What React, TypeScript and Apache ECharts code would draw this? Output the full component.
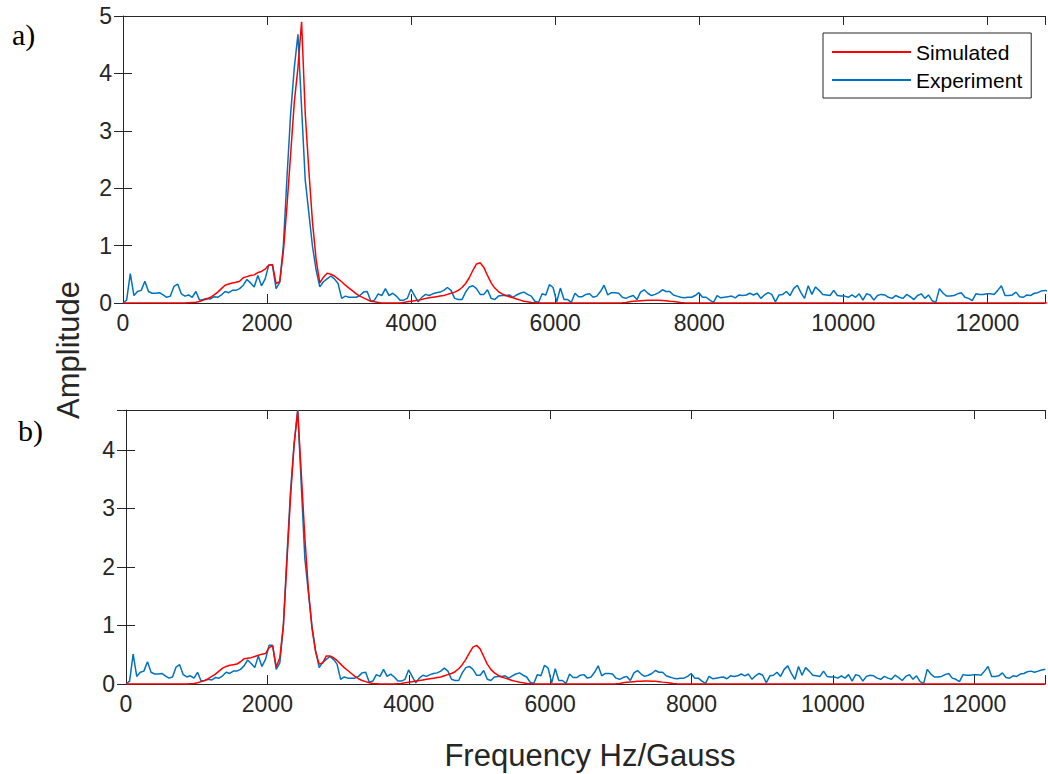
import React, { useEffect, useRef } from "react";
import * as echarts from "echarts";

// Frequency spacing of the samples (Hz/Gauss)
const FREQ_STEP = 50.6;

// x tick labels and y tick labels
const X_TICKS = [0, 2000, 4000, 6000, 8000, 10000, 12000];
const Y_TICKS_A = [0, 1, 2, 3, 4, 5];
const Y_TICKS_B = [0, 1, 2, 3, 4];

const SERIES_NAMES = ["Simulated", "Experiment"];

// Experimental spectrum (same in both panels)
const EXPERIMENT = [
  0, 0.05, 0.51, 0.13, 0.2, 0.22, 0.38, 0.2, 0.17, 0.17,
  0.18, 0.14, 0.1, 0.12, 0.29, 0.33, 0.16, 0.12, 0.14, 0.1,
  0.2, 0.05, 0.06, 0.08, 0.07, 0.11, 0.1, 0.14, 0.2, 0.18,
  0.22, 0.22, 0.25, 0.31, 0.41, 0.35, 0.28, 0.48, 0.3, 0.42,
  0.66, 0.66, 0.25, 0.36, 1.0, 2.2, 3.3, 4.1, 4.68, 3.4,
  2.14, 1.56, 0.98, 0.57, 0.28, 0.37, 0.42, 0.47, 0.42, 0.34,
  0.08, 0.12, 0.1, 0.1, 0.1, 0.13, 0.19, 0.2, 0.03, 0.05,
  0.16, 0.13, 0.25, 0.13, 0.17, 0.12, 0.05, 0.05, 0.08, 0.24,
  0.13, 0.02, 0.1, 0.15, 0.13, 0.16, 0.18, 0.19, 0.22, 0.27,
  0.22, 0.08, 0.06, 0.06, 0.19, 0.28, 0.3, 0.25, 0.15, 0.15,
  0.23, 0.08, 0.06, 0.12, 0.13, 0.13,
  0.14, 0.1, 0.14, 0.17, 0.19, 0.15, 0.12, 0.03, 0.01, 0.16,
  0.14, 0.32, 0.27, 0.02, 0.26, 0.06, 0.06, 0.01, 0.17,
  0.11, 0.11, 0.15, 0.16, 0.1, 0.12, 0.2, 0.31, 0.14, 0.18,
  0.18, 0.17, 0.1, 0.08, 0.11, 0.13, 0.06, 0.19, 0.23, 0.17,
  0.13, 0.15, 0.18, 0.23, 0.2, 0.2, 0.14, 0.12, 0.1, 0.09,
  0.1, 0.1, 0.13, 0.18, 0.1, 0.1, 0.05, 0.01, 0.13, 0.09,
  0.1, 0.11, 0.12, 0.09, 0.14, 0.13, 0.14, 0.17, 0.14, 0.17,
  0.08, 0.14, 0.18, 0.15, 0.02, 0.14, 0.15, 0.2, 0.13, 0.25,
  0.31, 0.18, 0.08, 0.3, 0.15, 0.28, 0.22, 0.15, 0.14, 0.13,
  0.22, 0.13, 0.12, 0.12, 0.1, 0.14, 0.1, 0.16, 0.05, 0.16,
  0.14, 0.05, 0.13,
  0.15, 0.14, 0.1, 0.08, 0.13, 0.1, 0.08, 0.15, 0.11, 0.06,
  0.13, 0.16, 0.08, 0.14, 0.04, 0.01, 0.25, 0.17, 0.12, 0.12,
  0.13, 0.16, 0.18, 0.1, 0.08, 0.04, 0.16, 0.15, 0.15, 0.16,
  0.16, 0.15, 0.22, 0.3, 0.13, 0.13, 0.14, 0.19, 0.11, 0.1,
  0.14, 0.13, 0.17, 0.18, 0.21, 0.22, 0.2, 0.22, 0.24, 0.25,
];

// Simulated spectrum, panel a)
const SIMULATED_A = [
  0, 0, 0, 0, 0, 0, 0, 0, 0, 0,
  0, 0, 0, 0, 0, 0, 0, 0, 0.005, 0.01,
  0.015, 0.025, 0.05, 0.07, 0.1, 0.14, 0.19, 0.25, 0.31, 0.33,
  0.35, 0.36, 0.38, 0.44, 0.46, 0.48, 0.49, 0.53, 0.55, 0.59,
  0.66, 0.67, 0.34, 0.37, 0.9, 1.7, 2.6, 3.5, 4.1, 4.9,
  3.3, 2.3, 1.4, 0.75, 0.35, 0.45, 0.52, 0.5, 0.47, 0.42,
  0.37, 0.31, 0.26, 0.21, 0.16, 0.12, 0.09, 0.06, 0.03, 0.02,
  0.01, 0, 0, 0, 0, 0, 0, 0.01, 0.02, 0.03,
  0.04, 0.05, 0.06, 0.08, 0.09, 0.1, 0.11, 0.12, 0.13, 0.15,
  0.17, 0.19, 0.22, 0.27, 0.34, 0.44, 0.57, 0.68, 0.7, 0.62,
  0.48, 0.35, 0.26, 0.2, 0.16, 0.13, 0.11, 0.09, 0.07, 0.05,
  0.03, 0.02, 0.01, 0.005, 0, 0, 0, 0, 0, 0,
  0, 0, 0, 0, 0, 0, 0, 0, 0, 0,
  0, 0, 0, 0, 0, 0, 0, 0.003, 0.01, 0.02,
  0.03, 0.035, 0.04, 0.045, 0.048, 0.05, 0.05, 0.048, 0.045, 0.04,
  0.032, 0.025, 0.018, 0.01, 0.005, 0.002, 0, 0, 0, 0,
  0, 0, 0, 0, 0, 0, 0, 0, 0, 0,
  0, 0, 0, 0, 0, 0, 0, 0, 0, 0,
  0, 0, 0, 0, 0, 0, 0, 0, 0, 0,
  0, 0, 0, 0, 0, 0, 0, 0, 0, 0,
  0, 0, 0, 0, 0, 0, 0, 0, 0, 0,
  0, 0, 0, 0, 0, 0, 0, 0, 0, 0,
  0, 0, 0, 0, 0, 0, 0, 0, 0, 0,
  0, 0, 0, 0, 0, 0, 0, 0, 0, 0,
  0, 0, 0, 0, 0, 0, 0, 0, 0, 0,
  0, 0, 0, 0, 0, 0, 0, 0,
];

// Simulated spectrum, panel b)
const SIMULATED_B = [
  0, 0, 0, 0, 0, 0, 0, 0, 0, 0,
  0, 0, 0, 0, 0, 0, 0, 0, 0.005, 0.01,
  0.02, 0.04, 0.06, 0.09, 0.13, 0.17, 0.22, 0.27, 0.3, 0.32,
  0.33, 0.34, 0.38, 0.43, 0.44, 0.45, 0.47, 0.49, 0.51, 0.52,
  0.62, 0.65, 0.29, 0.45, 1.0, 2.1, 3.2, 4.1, 4.66, 3.6,
  2.5, 1.6, 0.95, 0.55, 0.34, 0.36, 0.48, 0.48, 0.45, 0.4,
  0.34, 0.28, 0.23, 0.18, 0.13, 0.09, 0.06, 0.04, 0.02, 0.01,
  0.005, 0, 0, 0, 0, 0, 0.005, 0.01, 0.02, 0.03,
  0.04, 0.05, 0.06, 0.07, 0.08, 0.09, 0.1, 0.11, 0.12, 0.14,
  0.16, 0.18, 0.21, 0.26, 0.33, 0.42, 0.53, 0.63, 0.66, 0.6,
  0.47, 0.34, 0.25, 0.19, 0.15, 0.12, 0.1, 0.08, 0.06, 0.045,
  0.03, 0.02, 0.01, 0.005, 0, 0, 0, 0, 0, 0,
  0, 0, 0, 0, 0, 0, 0, 0, 0, 0,
  0, 0, 0, 0, 0, 0, 0, 0.003, 0.01, 0.02,
  0.03, 0.035, 0.04, 0.045, 0.048, 0.05, 0.05, 0.048, 0.045, 0.04,
  0.032, 0.025, 0.018, 0.01, 0.005, 0.002, 0, 0, 0, 0,
  0, 0, 0, 0, 0, 0, 0, 0, 0, 0,
  0, 0, 0, 0, 0, 0, 0, 0, 0, 0,
  0, 0, 0, 0, 0, 0, 0, 0, 0, 0,
  0, 0, 0, 0, 0, 0, 0, 0, 0, 0,
  0, 0, 0, 0, 0, 0, 0, 0, 0, 0,
  0, 0, 0, 0, 0, 0, 0, 0, 0, 0,
  0, 0, 0, 0, 0, 0, 0, 0, 0, 0,
  0, 0, 0, 0, 0, 0, 0, 0, 0, 0,
  0, 0, 0, 0, 0, 0, 0, 0, 0, 0,
  0, 0, 0, 0, 0, 0, 0, 0,
];

const SANS = '"Liberation Sans", Arial, Helvetica, sans-serif';
const SERIF = '"Liberation Serif", "Times New Roman", serif';
const AXIS_COLOR = "#262626";
const RED = "#FF0000";
const BLUE = "#0072BD";

function toPairs(values: number[]): number[][] {
  return values.map((v, i) => [i * FREQ_STEP, v]);
}

function xFormatter(v: number): string {
  return X_TICKS.indexOf(v) >= 0 ? String(v) : "";
}

function yFormatterFor(ticks: number[]) {
  return (v: number) => (ticks.indexOf(v) >= 0 ? String(v) : "");
}

function mainX(gridIndex: number, max: number) {
  return {
    type: "value",
    gridIndex,
    position: "bottom",
    min: 0,
    max,
    interval: 2000,
    axisLine: { show: true, onZero: false, lineStyle: { color: AXIS_COLOR, width: 1 } },
    axisTick: { show: true, inside: true, length: 9, lineStyle: { color: AXIS_COLOR, width: 1 } },
    axisLabel: {
      show: true,
      margin: 8,
      color: AXIS_COLOR,
      fontFamily: SANS,
      fontSize: 23,
      formatter: xFormatter,
    },
    splitLine: { show: false },
  };
}

function topX(gridIndex: number, max: number) {
  return {
    type: "value",
    gridIndex,
    position: "top",
    min: 0,
    max,
    interval: 2000,
    axisLine: { show: true, onZero: false, lineStyle: { color: AXIS_COLOR, width: 1 } },
    axisTick: { show: true, inside: true, length: 9, lineStyle: { color: AXIS_COLOR, width: 1 } },
    axisLabel: { show: false },
    splitLine: { show: false },
  };
}

function leftY(gridIndex: number, max: number, ticks: number[]) {
  return {
    type: "value",
    gridIndex,
    position: "left",
    min: 0,
    max,
    interval: 1,
    axisLine: { show: true, onZero: false, lineStyle: { color: AXIS_COLOR, width: 1 } },
    axisTick: { show: true, inside: true, length: 9, lineStyle: { color: AXIS_COLOR, width: 1 } },
    axisLabel: {
      show: true,
      margin: 11,
      color: AXIS_COLOR,
      fontFamily: SANS,
      fontSize: 23,
      formatter: yFormatterFor(ticks),
    },
    splitLine: { show: false },
  };
}

function rightY(gridIndex: number, max: number) {
  return {
    type: "value",
    gridIndex,
    position: "right",
    min: 0,
    max,
    interval: 1,
    axisLine: { show: false },
    axisTick: { show: true, inside: true, length: 9, lineStyle: { color: AXIS_COLOR, width: 1 } },
    axisLabel: { show: false },
    splitLine: { show: false },
  };
}

function lineSeries(name: string, values: number[], color: string, xi: number, yi: number, z: number) {
  return {
    name,
    type: "line",
    xAxisIndex: xi,
    yAxisIndex: yi,
    data: toPairs(values),
    showSymbol: false,
    symbol: "none",
    smooth: false,
    z,
    lineStyle: { color, width: 1.5 },
    itemStyle: { color },
    emphasis: { disabled: true },
  };
}

export default function App() {
  const ref = useRef<HTMLDivElement>(null);

  useEffect(() => {
    if (!ref.current) return;
    const chart = echarts.init(ref.current, undefined, { renderer: "svg" });
    const option: any = {
      animation: false,
      backgroundColor: "#ffffff",
      grid: [
        { left: 123, top: 16, width: 927, height: 287, containLabel: false },
        { left: 126, top: 410, width: 922, height: 274, containLabel: false },
      ],
      xAxis: [mainX(0, 12800), topX(0, 12800), mainX(1, 13000), topX(1, 13000)],
      yAxis: [leftY(0, 5, Y_TICKS_A), rightY(0, 5), leftY(1, 4.68, Y_TICKS_B), rightY(1, 4.68)],
      legend: {
        show: true,
        data: SERIES_NAMES,
        orient: "vertical",
        left: 823,
        top: 33,
        padding: [5, 9, 4, 9],
        itemGap: 0,
        itemWidth: 79,
        itemHeight: 2,
        icon: "rect",
        backgroundColor: "#ffffff",
        borderColor: AXIS_COLOR,
        borderWidth: 1,
        selectedMode: false,
        textStyle: { fontFamily: SANS, fontSize: 21, color: "#000000", lineHeight: 28 },
      },
      graphic: [
        {
          type: "text",
          x: 12,
          y: 34,
          style: { text: "a)", font: `30px ${SERIF}`, fill: "#000000", textVerticalAlign: "middle" },
        },
        {
          type: "text",
          x: 18,
          y: 430,
          style: { text: "b)", font: `30px ${SERIF}`, fill: "#000000", textVerticalAlign: "middle" },
        },
        {
          type: "text",
          x: 68,
          y: 350,
          rotation: Math.PI / 2,
          style: {
            text: "Amplitude",
            font: `31px ${SANS}`,
            fill: AXIS_COLOR,
            textAlign: "center",
            textVerticalAlign: "middle",
          },
        },
        {
          type: "text",
          x: 590,
          y: 755,
          style: {
            text: "Frequency Hz/Gauss",
            font: `31px ${SANS}`,
            fill: AXIS_COLOR,
            textAlign: "center",
            textVerticalAlign: "middle",
          },
        },
      ],
      series: [
        lineSeries("Experiment", EXPERIMENT, BLUE, 0, 0, 2),
        lineSeries("Simulated", SIMULATED_A, RED, 0, 0, 3),
        lineSeries("Experiment", EXPERIMENT, BLUE, 2, 2, 2),
        lineSeries("Simulated", SIMULATED_B, RED, 2, 2, 3),
      ],
    };
    chart.setOption(option);
    return () => {
      chart.dispose();
    };
  }, []);

  return (
    <div
      ref={ref}
      style={{ position: "fixed", left: 0, top: 0, width: 1048, height: 774, background: "#fff" }}
    />
  );
}
